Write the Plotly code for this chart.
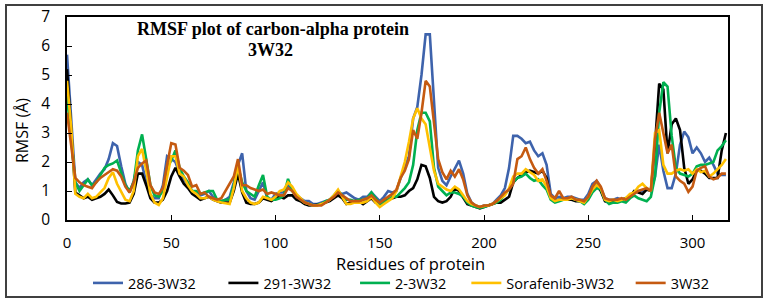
import plotly.graph_objects as go

residues = list(range(0, 317, 2))

rmsf_286 = [5.7, 3.4, 1.3, 1.1, 1.3, 1.4, 1.2, 1.4, 1.6, 1.75, 2.1, 2.65, 2.55, 1.85, 1.25, 0.95,
            1.35, 2.0, 1.9, 1.3, 0.85, 0.75, 0.75, 1.2, 2.2, 2.1, 2.0, 1.6, 1.4, 1.2, 1.0, 0.95,
            0.85, 0.9, 1.0, 0.8, 0.7, 0.65, 0.7, 0.8, 1.3, 1.9, 2.3, 1.0, 0.75, 0.7, 1.0, 1.3,
            0.75, 0.7, 0.9, 0.95, 0.95, 1.2, 1.05, 0.85, 0.75, 0.65, 0.65, 0.55, 0.55, 0.6, 0.65,
            0.7, 0.8, 0.95, 0.9, 0.95, 0.85, 0.75, 0.7, 0.8, 0.8, 0.95, 0.8, 0.65, 0.8, 1.0, 0.95,
            1.0, 1.45, 1.8, 2.2, 3.5, 3.9, 5.0, 6.4, 6.4, 4.0, 1.8, 1.35, 1.2, 1.5, 1.75, 2.05,
            1.6, 0.9, 0.6, 0.5, 0.45, 0.5, 0.5, 0.55, 0.7, 0.85, 1.1, 1.8, 2.9, 2.9, 2.8, 2.65,
            2.7, 2.4, 2.2, 2.3, 1.9, 0.9, 0.75, 0.8, 0.75, 0.8, 0.8, 0.75, 0.7, 0.7, 0.9, 1.25,
            1.35, 1.1, 0.75, 0.7, 0.7, 0.75, 0.7, 0.75, 0.85, 0.95, 1.0, 1.0, 1.1, 1.0, 1.5, 2.6,
            1.7, 1.1, 1.1, 1.6, 2.6, 3.05, 2.85, 2.3, 2.5, 2.3, 2.0, 2.15, 1.9, 1.6, 1.55, 1.55]

rmsf_291 = [5.2, 3.0, 0.95, 0.85, 0.75, 0.8, 0.7, 0.75, 0.8, 0.9, 1.05, 0.85, 0.62, 0.57, 0.57, 0.6,
            0.9, 1.6, 1.6, 1.2, 0.75, 0.6, 0.6, 0.7, 1.0, 1.5, 1.8, 1.5, 1.25, 1.1, 0.9, 0.8,
            0.7, 0.75, 0.8, 0.7, 0.65, 0.6, 0.6, 0.6, 1.0, 1.6, 0.95, 0.6, 0.55, 0.55, 0.6, 0.75,
            0.7, 0.65, 0.75, 0.8, 0.75, 0.85, 0.85, 0.7, 0.65, 0.55, 0.5, 0.5, 0.52, 0.55, 0.6,
            0.65, 0.75, 0.85, 0.75, 0.55, 0.6, 0.65, 0.65, 0.55, 0.65, 0.75, 0.6, 0.55, 0.65, 0.7,
            0.75, 0.8, 0.8, 0.85, 1.0, 1.1, 1.4, 1.9, 1.85, 1.45, 0.8, 0.65, 0.6, 0.65, 0.8, 1.1,
            1.0, 0.75, 0.55, 0.5, 0.45, 0.4, 0.45, 0.5, 0.55, 0.6, 0.6, 0.7, 0.8, 1.3, 1.45, 1.55,
            1.65, 1.7, 1.65, 1.6, 1.7, 1.45, 0.75, 0.65, 0.7, 0.7, 0.7, 0.7, 0.65, 0.65, 0.6, 0.75,
            1.05, 1.2, 1.0, 0.65, 0.6, 0.65, 0.65, 0.7, 0.75, 0.8, 1.0, 0.95, 0.9, 1.05, 1.0, 2.6,
            4.7, 4.5, 2.3, 3.3, 3.5, 3.1, 1.8, 1.25, 1.4, 1.7, 1.7, 1.6, 1.45, 1.45, 1.45, 2.4, 3.0]

rmsf_2 = [4.3, 2.9, 1.3, 1.0, 1.2, 1.4, 1.2, 1.3, 1.55, 1.8, 1.9, 1.95, 2.05, 1.6, 1.2, 1.0,
          1.3, 2.4, 2.95, 2.1, 1.2, 0.85, 0.8, 1.0, 1.8, 2.05, 2.4, 1.8, 1.5, 1.3, 1.0, 1.0,
          0.9, 0.95, 1.0, 1.0, 0.7, 0.65, 0.7, 0.7, 1.2, 1.85, 1.3, 1.0, 0.9, 0.8, 1.2, 1.55,
          0.8, 0.7, 0.7, 0.75, 0.85, 1.42, 1.0, 0.85, 0.7, 0.6, 0.55, 0.5, 0.52, 0.55, 0.65,
          0.7, 0.85, 1.0, 0.85, 0.7, 0.7, 0.65, 0.7, 0.7, 0.75, 0.95, 0.75, 0.55, 0.6, 0.7,
          0.8, 0.8, 0.95, 1.1, 1.3, 1.9, 3.1, 3.7, 3.7, 3.4, 1.8, 1.15, 1.0, 0.85, 0.95, 0.95,
          0.9, 0.8, 0.6, 0.5, 0.45, 0.42, 0.45, 0.5, 0.55, 0.6, 0.7, 0.9, 1.05, 1.3, 1.45, 1.5,
          1.6, 1.45, 1.35, 1.4, 1.2, 1.05, 0.7, 0.6, 0.65, 0.7, 0.75, 0.75, 0.7, 0.65, 0.55, 0.7,
          0.95, 1.1, 1.05, 0.7, 0.55, 0.6, 0.6, 0.65, 0.6, 0.75, 0.85, 0.75, 0.7, 0.65, 0.8, 1.5,
          3.7, 4.75, 4.6, 2.9, 1.8, 1.6, 1.55, 1.5, 1.6, 1.85, 1.9, 1.9, 1.95, 2.0, 2.4, 2.55, 2.75]

rmsf_sorafenib = [4.8, 3.2, 0.9, 0.8, 0.75, 0.9, 0.75, 0.8, 0.95, 1.1, 1.45, 1.65, 1.25, 0.95, 0.7, 0.65,
                  1.0, 2.2, 2.45, 1.7, 0.9, 0.6, 0.52, 0.75, 1.5, 2.2, 2.2, 1.6, 1.5, 1.2, 1.0, 0.9,
                  0.75, 0.75, 0.8, 0.7, 0.65, 0.6, 0.58, 0.55, 1.1, 1.9, 1.0, 0.75, 0.6, 0.55, 0.6, 0.8,
                  0.75, 0.7, 0.8, 1.0, 1.05, 1.3, 1.15, 0.9, 0.75, 0.6, 0.55, 0.5, 0.5, 0.55, 0.6,
                  0.7, 0.85, 1.05, 0.8, 0.55, 0.55, 0.6, 0.6, 0.6, 0.65, 0.8, 0.6, 0.45, 0.55, 0.65,
                  0.75, 1.0, 1.5, 2.0, 2.7, 3.5, 3.85, 3.5, 3.3, 2.5, 1.7, 1.25, 1.15, 1.05, 1.0, 1.15,
                  1.05, 0.85, 0.65, 0.55, 0.5, 0.45, 0.48, 0.5, 0.55, 0.65, 0.75, 0.85, 1.1, 1.5, 1.6, 1.6,
                  1.75, 1.65, 1.55, 1.35, 1.4, 1.15, 0.75, 0.65, 0.7, 0.7, 0.7, 0.75, 0.7, 0.65, 0.6, 0.8,
                  1.05, 1.2, 1.1, 0.7, 0.65, 0.7, 0.65, 0.7, 0.75, 0.9, 0.95, 1.15, 1.25, 1.1, 1.0, 3.0,
                  3.1, 1.9, 1.6, 1.6, 1.7, 1.75, 1.7, 1.75, 1.6, 1.75, 1.65, 1.7, 1.5, 1.6, 1.75, 1.9, 2.1]

rmsf_3w32 = [3.7, 2.5, 1.45, 1.3, 1.2, 1.15, 1.1, 1.3, 1.45, 1.55, 1.65, 1.75, 1.7, 1.5, 1.15, 0.95,
             1.3, 1.8, 1.95, 2.05, 1.2, 0.95, 0.9, 1.1, 1.9, 2.65, 2.6, 1.8, 1.7, 1.55, 1.15, 1.2,
             0.9, 0.95, 0.8, 0.75, 0.7, 0.75, 1.0, 1.25, 1.5, 2.1, 1.2, 1.2, 1.1, 1.05, 1.0, 1.05,
             0.9, 0.95, 0.9, 0.85, 0.85, 1.1, 1.0, 0.8, 0.7, 0.6, 0.55, 0.5, 0.5, 0.5, 0.6,
             0.7, 0.8, 0.95, 0.85, 0.75, 0.65, 0.65, 0.65, 0.7, 0.75, 0.85, 0.7, 0.6, 0.7, 0.8,
             0.9, 1.05, 1.45, 1.7, 2.1, 3.1, 2.8, 3.7, 4.8, 4.6, 3.4, 2.1, 1.65, 1.4, 1.7, 1.5,
             1.75, 1.4, 0.85, 0.6, 0.5, 0.45, 0.5, 0.5, 0.55, 0.65, 0.8, 0.95, 1.05, 1.25, 2.1, 2.2,
             2.5, 2.1, 1.8, 1.6, 1.75, 1.35, 0.85, 0.75, 1.0, 0.75, 0.75, 0.8, 0.7, 0.7, 0.65, 0.8,
             1.15, 1.35, 1.15, 0.75, 0.7, 0.7, 0.7, 0.75, 0.7, 0.8, 0.9, 1.0, 1.05, 1.1, 1.0, 2.8,
             3.7, 3.0, 2.3, 2.6, 1.5, 1.35, 1.25, 0.97, 1.15, 1.7, 1.8, 1.85, 1.5, 1.4, 1.45, 1.6, 1.6]

series_names = ["286-3W32", "291-3W32", "2-3W32", "Sorafenib-3W32", "3W32"]
series_values = [rmsf_286, rmsf_291, rmsf_2, rmsf_sorafenib, rmsf_3w32]
series_colors = ["#3E63AC", "#000000", "#00B050", "#FFC000", "#C55A11"]
# invisible padding after legend labels to mimic the reference's column spacing
legend_pad = [6, 5, 4, 3, 0]

x_ticks = [0, 50, 100, 150, 200, 250, 300]
y_ticks = [0, 1, 2, 3, 4, 5, 6, 7]

fig = go.Figure()
for name, vals, col, pad in zip(series_names, series_values, series_colors, legend_pad):
    fig.add_trace(go.Scatter(x=residues, y=vals, mode="lines", name=name + "\u00a0" * pad,
                             line=dict(color=col, width=2.6)))

# plot area px: x 67..728, y 17..220
L, R, T, B = 67, 40, 17, 85
W, H = 768, 305
pw, ph = W - L - R, H - T - B

def px(xp):
    return (xp - L) / pw

def py(yp):
    return (H - B - yp) / ph

fig.update_layout(
    template="none",
    width=W, height=H,
    margin=dict(l=L, r=R, t=T, b=B, pad=0),
    paper_bgcolor="white", plot_bgcolor="white",
    font=dict(family="Open Sans", color="black"),
    showlegend=True,
    legend=dict(orientation="h", xref="container", yref="container",
                x=88 / W, xanchor="left", y=1 - 283 / H, yanchor="middle",
                font=dict(family="Open Sans", size=14.5, color="black"),
                bgcolor="rgba(0,0,0,0)", borderwidth=0),
    xaxis=dict(range=[0, 317], tickvals=x_ticks, showgrid=False, zeroline=False, automargin=False,
               showline=True, linecolor="black", linewidth=1.5, mirror=True,
               ticks="inside", ticklen=5, tickcolor="black", tickwidth=1.2,
               tickfont=dict(family="Open Sans", size=15), ticklabelstandoff=8),
    yaxis=dict(range=[0, 7], tickvals=y_ticks, showgrid=False, zeroline=False, automargin=False,
               showline=True, linecolor="black", linewidth=1.5, mirror=True,
               ticks="inside", ticklen=5, tickcolor="black", tickwidth=1.2,
               tickfont=dict(family="Open Sans", size=15.5), ticklabelstandoff=12),
    annotations=[
        dict(text="<b>RMSF plot of carbon-alpha protein</b>", x=px(273), y=py(29),
             xref="paper", yref="paper", showarrow=False, xanchor="center", yanchor="middle",
             font=dict(family="Liberation Serif", size=18, color="black")),
        dict(text="<b>3W32</b>", x=px(270), y=py(50),
             xref="paper", yref="paper", showarrow=False, xanchor="center", yanchor="middle",
             font=dict(family="Liberation Serif", size=18, color="black")),
        dict(text="RMSF (Å)", x=px(22), y=py(131), textangle=-90,
             xref="paper", yref="paper", showarrow=False, xanchor="center", yanchor="middle",
             font=dict(family="Open Sans", size=16, color="black")),
        dict(text="Residues of protein", x=px(410), y=py(263),
             xref="paper", yref="paper", showarrow=False, xanchor="center", yanchor="middle",
             font=dict(family="Open Sans", size=16.5, color="black")),
    ],
    shapes=[
        dict(type="rect", xref="paper", yref="paper",
             x0=px(6), x1=px(762), y0=py(297), y1=py(5),
             line=dict(color="#404040", width=2), fillcolor="rgba(0,0,0,0)", layer="below"),
    ],
)

fig.write_html("out.html", config={"displayModeBar": False},
               post_script="document.body.style.margin='0';document.body.style.overflow='hidden';")
